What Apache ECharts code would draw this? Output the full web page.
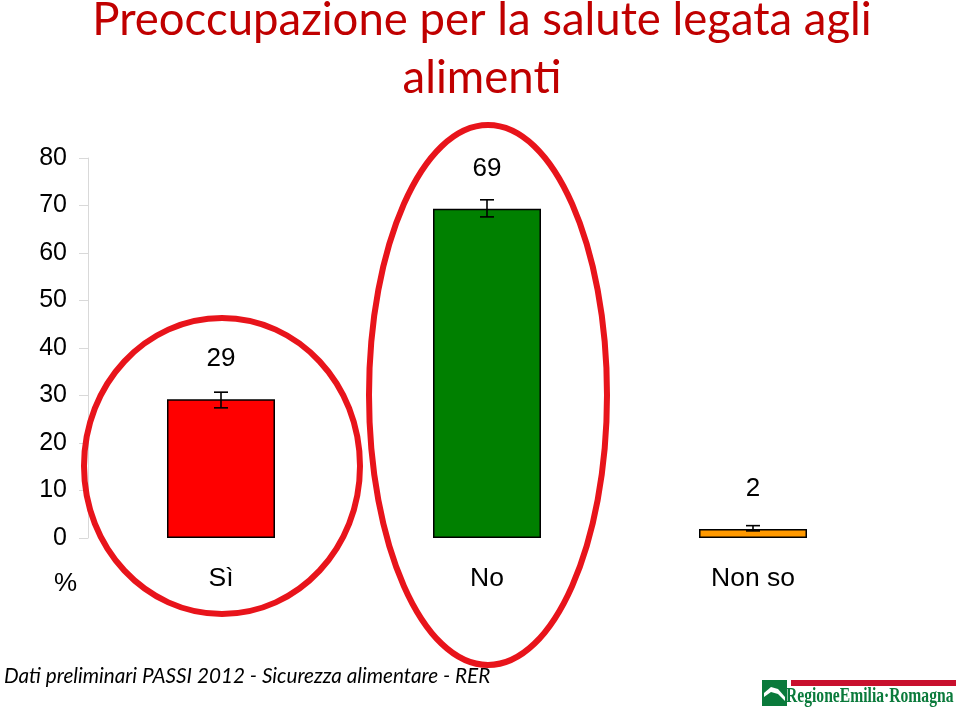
<!DOCTYPE html>
<html><head><meta charset="utf-8">
<script src="https://cdn.jsdelivr.net/npm/echarts@6/dist/echarts.min.js"></script>
<style>html,body{margin:0;padding:0;background:#fff}#c{width:960px;height:710px}</style>
</head><body><div id="c"></div>
<script>
const categories = ['Sì', 'No', 'Non so'];
const values = [29.2, 69.3, 1.9];
const errLow = [27.4, 67.6, 1.5];
const errHigh = [30.7, 71.2, 2.6];
const labels = ['29', '69', '2'];
const barColors = ['#FF0000', '#008000', '#FF9900'];
const yTicks = [0, 10, 20, 30, 40, 50, 60, 70, 80];

const chart = echarts.init(document.getElementById('c'));
chart.setOption({
  animation: false,
  backgroundColor: '#fff',
  title: {
    text: 'Preoccupazione per la salute legata agli\nalimenti',
    left: 477, top: -14, textAlign: 'center',
    textStyle: { color: '#C00000', fontFamily: 'Lato', fontWeight: 'normal', fontSize: 45.5, lineHeight: 58 }
  },
  grid: { left: 88, right: 74, top: 158, bottom: 172 },
  xAxis: {
    type: 'category', data: categories,
    axisLine: { show: false }, axisTick: { show: false },
    axisLabel: { margin: 27, color: '#000', fontFamily: 'Liberation Sans', fontSize: 26.5 }
  },
  yAxis: {
    type: 'value', min: 0, max: 80, interval: 10,
    axisLine: { show: true, lineStyle: { color: '#D9D9D9', width: 1 } },
    axisTick: { show: true, length: 9, lineStyle: { color: '#D9D9D9' } },
    splitLine: { show: false },
    axisLabel: { margin: 21, color: '#000', fontFamily: 'Liberation Sans', fontSize: 25,
      formatter: v => yTicks.includes(v) ? String(v) : '' }
  },
  series: [
    {
      type: 'bar', barWidth: '40.6%',
      data: values.map((v, i) => ({ value: v, itemStyle: { color: barColors[i] } })),
      itemStyle: { borderColor: '#000', borderWidth: 1.5 },
      label: { show: true, position: 'top', distance: 27, color: '#000',
        fontFamily: 'Liberation Sans', fontSize: 26, formatter: p => labels[p.dataIndex] }
    },
    {
      type: 'custom', z: 5,
      data: categories.map((c, i) => [i, errLow[i], errHigh[i]]),
      renderItem: (params, api) => {
        const lo = api.coord([api.value(0), api.value(1)]);
        const hi = api.coord([api.value(0), api.value(2)]);
        const x = lo[0], hw = 7;
        const st = { stroke: '#000', lineWidth: 1.6 };
        return { type: 'group', children: [
          { type: 'line', shape: { x1: x, y1: lo[1], x2: x, y2: hi[1] }, style: st },
          { type: 'line', shape: { x1: x - hw, y1: lo[1], x2: x + hw, y2: lo[1] }, style: st },
          { type: 'line', shape: { x1: x - hw, y1: hi[1], x2: x + hw, y2: hi[1] }, style: st }
        ]};
      }
    }
  ],
  graphic: [
    { type: 'ellipse', shape: { cx: 222, cy: 466, rx: 138, ry: 148 }, style: { fill: 'none', stroke: '#E8141B', lineWidth: 6 }, z: 10 },
    { type: 'ellipse', shape: { cx: 488, cy: 395, rx: 119, ry: 270 }, style: { fill: 'none', stroke: '#E8141B', lineWidth: 6 }, z: 10 },
    { type: 'text', left: 54, top: 571, style: { text: '%', fill: '#000', font: '26px "Liberation Sans"' } },
    { type: 'text', left: 4, top: 666, style: { text: 'Dati preliminari PASSI 2012 - Sicurezza alimentare - RER', fill: '#000', font: 'italic 20.7px Lato' } },
    { type: 'rect', shape: { x: 791, y: 680, width: 165, height: 6 }, style: { fill: '#C8102E' } },
    { type: 'rect', shape: { x: 762, y: 680, width: 25, height: 26 }, style: { fill: '#0A7A3B' } },
    { type: 'polygon', shape: { points: [[764, 693], [771, 687], [778, 689], [785, 697], [785, 704], [764, 704]] }, style: { fill: '#fff' } },
    { type: 'polygon', shape: { points: [[764, 697], [771, 692], [778, 694], [785, 701], [785, 704], [764, 704]] }, style: { fill: '#0A7A3B' } },
    { type: 'text', x: 786, y: 685, scaleX: 0.71, style: { text: 'RegioneEmilia·Romagna', fill: '#0A7A3B', font: 'bold 22px "Liberation Serif"' } }
  ]
});
</script></body></html>
